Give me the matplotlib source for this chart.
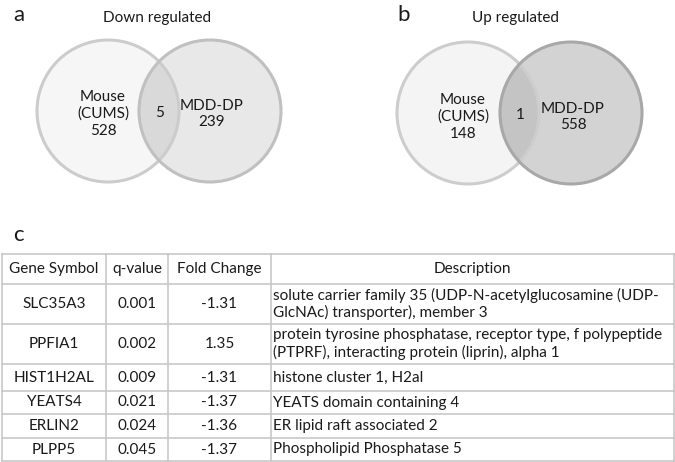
import numpy as np
import matplotlib.pyplot as plt
from matplotlib.patches import Circle

# Venn data
venn_titles = ['Down regulated', 'Up regulated']
venn_letters = ['a', 'b']
mouse_only = [528, 148]
overlap = [5, 1]
mdd_only = [239, 558]

# table data
col_labels = ['Gene Symbol', 'q-value', 'Fold Change', 'Description']
genes = ['SLC35A3', 'PPFIA1', 'HIST1H2AL', 'YEATS4', 'ERLIN2', 'PLPP5']
qvals = ['0.001', '0.002', '0.009', '0.021', '0.024', '0.045']
fold = ['-1.31', '1.35', '-1.31', '-1.37', '-1.36', '-1.37']
descr = ['solute carrier family 35 (UDP-N-acetylglucosamine (UDP-\nGlcNAc) transporter), member 3',
         'protein tyrosine phosphatase, receptor type, f polypeptide\n(PTPRF), interacting protein (liprin), alpha 1',
         'histone cluster 1, H2al',
         'YEATS domain containing 4',
         'ER lipid raft associated 2',
         'Phospholipid Phosphatase 5']

plt.rcParams['font.family'] = ['Lato', 'DejaVu Sans']
fs = 11
txt = '#1a1a1a'

fig = plt.figure(figsize=(6.75, 4.62), dpi=100)
ax = fig.add_axes([0, 0, 1, 1])
ax.set_xlim(0, 675)
ax.set_ylim(462, 0)
ax.axis('off')

# venn layout (pixel units)
centers = [((108, 111), (210, 111)), ((468, 113), (571, 113))]
radius = 71
fills = [('#f6f6f6', '#e8e8e8', '#d9d9d9'), ('#f4f4f4', '#d3d3d3', '#c4c4c4')]
edges = [('#cccccc', '#c0c0c0'), ('#cdcdcd', '#a8a8a8')]
title_x = [157, 516]
letter_x = [13, 397]
text_y = [114, 117]
mid_y = [113, 115]

for i in range(2):
    (lc, rc) = centers[i]
    left = Circle(lc, radius, facecolor=fills[i][0], edgecolor='none', zorder=1)
    right = Circle(rc, radius, facecolor=fills[i][1], edgecolor='none', zorder=1)
    ax.add_patch(left)
    ax.add_patch(right)
    lens = Circle(lc, radius, facecolor=fills[i][2], edgecolor='none', zorder=2)
    ax.add_patch(lens)
    lens.set_clip_path(right)
    ax.add_patch(Circle(lc, radius, facecolor='none', edgecolor=edges[i][0], lw=2.2, zorder=3))
    ax.add_patch(Circle(rc, radius, facecolor='none', edgecolor=edges[i][1], lw=2.2, zorder=3))

    ax.text(title_x[i], 18, venn_titles[i], ha='center', va='center', fontsize=fs, color=txt)
    ax.text(letter_x[i], 15, venn_letters[i], ha='left', va='center', fontsize=16, color=txt)
    ax.text(lc[0] - 5, text_y[i], 'Mouse\n(CUMS)\n%d' % mouse_only[i], ha='center', va='center',
            fontsize=fs, color=txt, linespacing=1.25, zorder=4)
    ax.text((lc[0] + rc[0]) / 2 + 0.5, mid_y[i], str(overlap[i]), ha='center', va='center',
            fontsize=fs, color=txt, zorder=4)
    ax.text(rc[0] + 2, text_y[i], 'MDD-DP\n%d' % mdd_only[i], ha='center', va='center',
            fontsize=fs, color=txt, linespacing=1.25, zorder=4)

# table
ax.text(13, 235, 'c', ha='left', va='center', fontsize=16, color=txt)
row_y = [254, 284, 324, 364, 391, 414, 438, 461]
col_x = [2, 106, 168, 271, 674]
grid = '#c4c4c4'
for y in row_y:
    ax.plot([col_x[0], col_x[-1]], [y, y], color=grid, lw=1.1)
for x in col_x:
    ax.plot([x, x], [row_y[0], row_y[-1]], color=grid, lw=1.1)

for j, lab in enumerate(col_labels):
    ax.text((col_x[j] + col_x[j + 1]) / 2, (row_y[0] + row_y[1]) / 2, lab,
            ha='center', va='center', fontsize=fs, color=txt)

for r in range(len(genes)):
    ym = (row_y[r + 1] + row_y[r + 2]) / 2
    ax.text((col_x[0] + col_x[1]) / 2, ym, genes[r], ha='center', va='center', fontsize=fs, color=txt)
    ax.text((col_x[1] + col_x[2]) / 2, ym, qvals[r], ha='center', va='center', fontsize=fs, color=txt)
    ax.text((col_x[2] + col_x[3]) / 2, ym, fold[r], ha='center', va='center', fontsize=fs, color=txt)
    ax.text(col_x[3] + 2, ym, descr[r], ha='left', va='center', fontsize=fs, color=txt, linespacing=1.22)

fig.savefig('out.png', dpi=100)
